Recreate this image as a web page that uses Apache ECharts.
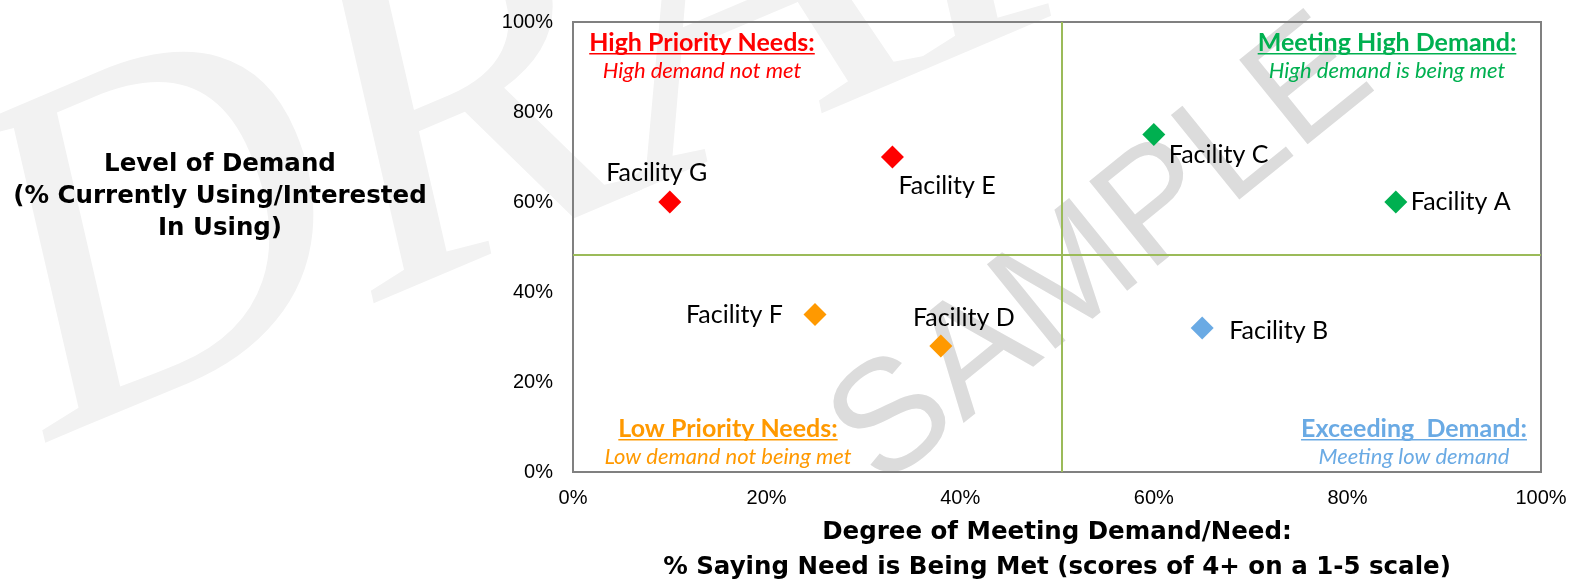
<!DOCTYPE html>
<html>
<head>
<meta charset="utf-8">
<script src="https://cdn.jsdelivr.net/npm/echarts@6/dist/echarts.min.js"></script>
<style>
  html, body { margin: 0; padding: 0; background: #fff; }
  #main { width: 1581px; height: 583px; }
</style>
</head>
<body>
<div id="main"></div>
<script>
// data (percent)
var facilities = ['Facility A', 'Facility B', 'Facility C', 'Facility D', 'Facility E', 'Facility F', 'Facility G'];
var meetingPct = [85, 65, 60, 38, 33, 25, 10]; // x: degree of meeting demand
var demandPct = [60, 32, 75, 28, 70, 35, 60];  // y: level of demand
var dividerX = 50.5; // vertical quadrant line
var dividerY = 48.2; // horizontal quadrant line

// quadrant colours
var colHigh = '#ff0000';   // top left
var colMet = '#00b050';    // top right
var colLow = '#ff9900';    // bottom left
var colExceed = '#6aaae4'; // bottom right

// label placement per point (px offset from marker centre)
var labelPlace = {
  'Facility A': { align: 'left', offset: [15, 0] },
  'Facility B': { align: 'left', offset: [27, 3] },
  'Facility C': { align: 'left', offset: [15, 20] },
  'Facility D': { align: 'center', offset: [23, -28] },
  'Facility E': { align: 'left', offset: [6, 29] },
  'Facility F': { align: 'right', offset: [-32, 0] },
  'Facility G': { align: 'center', offset: [-13, -29] }
};

var chart = echarts.init(document.getElementById('main'));

function quadColor(x, y) {
  if (y >= dividerY) return x < dividerX ? colHigh : colMet;
  return x < dividerX ? colLow : colExceed;
}

var points = facilities.map(function (name, i) {
  var p = labelPlace[name];
  return {
    name: name,
    value: [meetingPct[i], demandPct[i]],
    itemStyle: { color: quadColor(meetingPct[i], demandPct[i]) },
    label: { align: p.align, offset: p.offset }
  };
});

// measure text for the underlines
var ctx = document.createElement('canvas').getContext('2d');
function textW(txt, font) {
  ctx.font = font;
  return ctx.measureText(txt).width;
}

var titleFont = 'Lato';
function quadLabel(cx, y, title, sub, color) {
  var tf = 'bold 25px ' + titleFont;
  var w = textW(title, tf);
  return [
    { type: 'text', x: cx, y: y, z: 5,
      style: { text: title, font: tf, fill: color, align: 'center', verticalAlign: 'middle' } },
    { type: 'rect', z: 5, shape: { x: cx - w / 2, y: y + 10, width: w, height: 1.5 },
      style: { fill: color } },
    { type: 'text', x: cx, y: y + 28, z: 5,
      style: { text: sub, font: 'italic 22px ' + titleFont, fill: color, align: 'center', verticalAlign: 'middle' } }
  ];
}

var graphics = [
  // watermarks
  { type: 'text', x: 0, y: 322, z: -10, rotation: 23 * Math.PI / 180,
    style: { text: 'DRAFT', font: 'italic 490px "Liberation Serif"', fill: '#f2f2f2', align: 'left', verticalAlign: 'middle' } },
  { type: 'text', x: 1103, y: 254, z: -10, rotation: 39 * Math.PI / 180,
    style: { text: 'SAMPLE', font: '158px "Liberation Sans"', fill: '#dcdcdc', align: 'center', verticalAlign: 'middle' } },
  // y axis title
  { type: 'text', x: 220, y: 197, z: 5,
    style: { text: 'Level of Demand\n(% Currently Using/Interested\nIn Using)', font: 'bold 24.5px "DejaVu Sans"',
      fill: '#000', align: 'center', verticalAlign: 'middle', lineHeight: 32 } }
]
  .concat(quadLabel(702, 43, 'High Priority Needs:', 'High demand not met', colHigh))
  .concat(quadLabel(1387, 43, 'Meeting High Demand:', 'High demand is being met', colMet))
  .concat(quadLabel(728, 429, 'Low Priority Needs:', 'Low demand not being met', colLow))
  .concat(quadLabel(1414, 429, 'Exceeding  Demand:', 'Meeting low demand', colExceed));

var option = {
  animation: false,
  grid: {
    left: 573, right: 40, top: 22, bottom: 111,
    outerBoundsMode: 'none',
    show: true, borderColor: '#808080', borderWidth: 2, backgroundColor: 'transparent'
  },
  xAxis: {
    type: 'value', min: 0, max: 100, interval: 20,
    name: 'Degree of Meeting Demand/Need:\n% Saying Need is Being Met (scores of 4+ on a 1-5 scale)',
    nameLocation: 'middle', nameGap: 43,
    nameTextStyle: { fontFamily: 'DejaVu Sans', fontWeight: 'bold', fontSize: 24.5, color: '#000', lineHeight: 35 },
    axisLine: { show: false }, axisTick: { show: false }, splitLine: { show: false },
    axisLabel: { formatter: '{value}%', fontFamily: 'Liberation Sans', fontSize: 20, color: '#000', margin: 16 }
  },
  yAxis: {
    type: 'value', min: 0, max: 100, interval: 20,
    axisLine: { show: false }, axisTick: { show: false }, splitLine: { show: false },
    axisLabel: { formatter: '{value}%', fontFamily: 'Liberation Sans', fontSize: 20, color: '#000', margin: 20 }
  },
  graphic: graphics,
  series: [{
    type: 'scatter',
    symbol: 'diamond',
    symbolSize: 23,
    data: points,
    z: 3,
    itemStyle: { opacity: 1 },
    emphasis: { disabled: true },
    label: {
      show: true, position: 'inside', formatter: '{b}',
      fontFamily: 'Lato', fontSize: 25, color: '#000', verticalAlign: 'middle'
    },
    markLine: {
      silent: true, symbol: 'none', label: { show: false },
      lineStyle: { color: '#9bbb59', width: 2, type: 'solid' },
      data: [{ xAxis: dividerX }, { yAxis: dividerY }]
    }
  }]
};

chart.setOption(option);
</script>
</body>
</html>
